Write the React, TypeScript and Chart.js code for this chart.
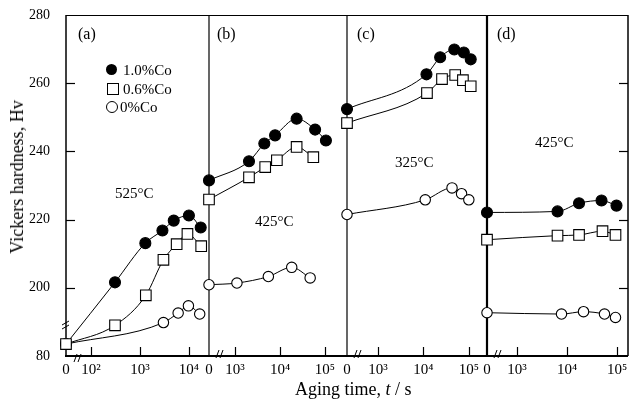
import React, { useEffect, useRef } from "react";
import { Chart, registerables } from "chart.js";
Chart.register(...registerables);

const FONT = "'Liberation Serif', 'Times New Roman', serif";

// ---- y axis (broken: lowest tick is labelled 80) ----
const Y_MIN = 180;
const Y_MAX = 280;
const Y_TICK_VALUES = [180, 200, 220, 240, 260, 280];
const Y_TICK_LABELS = ["80", "200", "220", "240", "260", "280"];

const SERIES_NAMES = ["1.0%Co", "0.6%Co", "0%Co"];

// ---- panel (a) 525°C ----
const A_T_CO10 = [0, 310, 1290, 2880, 4900, 10000, 17400];
const A_HV_CO10 = [183.5, 201.6, 213.1, 216.8, 219.7, 221.2, 217.7];
const A_T_CO06 = [0, 310, 1320, 3020, 5620, 9330, 17800];
const A_HV_CO06 = [183.5, 189.0, 197.8, 208.2, 212.8, 215.8, 212.2];
const A_T_CO00 = [0, 3020, 6030, 9770, 16600];
const A_HV_CO00 = [183.5, 189.8, 192.6, 194.7, 192.3];
const A_X_TICKS = [1e2, 1e3, 1e4];
const A_X_LABELS = ["10²", "10³", "10⁴"];

// ---- panel (b) 425°C ----
const B_T_CO10 = [0, 2040, 4470, 7760, 23400, 60300, 105000];
const B_HV_CO10 = [231.5, 237.1, 242.3, 244.7, 249.6, 246.4, 243.2];
const B_T_CO06 = [0, 2040, 4680, 8510, 23400, 55000];
const B_HV_CO06 = [225.9, 232.4, 235.4, 237.4, 241.3, 238.3];
const B_T_CO00 = [0, 1100, 5500, 18200, 46800];
const B_HV_CO00 = [200.9, 201.4, 203.3, 206.0, 202.9];
const B_X_TICKS = [1e3, 1e4, 1e5];
const B_X_LABELS = ["10³", "10⁴", "10⁵"];

// ---- panel (c) 325°C ----
const C_T_CO10 = [0, 11700, 23400, 47900, 77600, 110000];
const C_HV_CO10 = [252.4, 262.6, 267.6, 269.9, 269.0, 267.0];
const C_T_CO06 = [0, 12000, 25700, 50100, 74100, 110000];
const C_HV_CO06 = [248.3, 257.1, 261.2, 262.4, 260.9, 259.1];
const C_T_CO00 = [0, 11000, 42700, 69200, 100000];
const C_HV_CO00 = [221.5, 225.8, 229.3, 227.6, 225.8];
const C_X_TICKS = [1e3, 1e4, 1e5];
const C_X_LABELS = ["10³", "10⁴", "10⁵"];

// ---- panel (d) 425°C ----
const D_T_CO10 = [0, 6460, 17400, 49000, 97700];
const D_HV_CO10 = [222.1, 222.4, 224.8, 225.6, 224.1];
const D_T_CO06 = [0, 6460, 17400, 51300, 93300];
const D_HV_CO06 = [214.1, 215.3, 215.5, 216.6, 215.5];
const D_T_CO00 = [0, 7760, 21400, 56200, 93300];
const D_HV_CO00 = [192.7, 192.3, 193.0, 192.3, 191.3];
const D_X_TICKS = [1e3, 1e4, 1e5];
const D_X_LABELS = ["10³", "10⁴", "10⁵"];

type Series = { t: number[]; hv: number[] };
type PanelDef = {
  key: string;
  canvasLeft: number;
  canvasWidth: number;
  padLeft: number;
  padRight: number;
  tMin: number;
  tMax: number;
  xTicks: number[];
  xLabels: string[];
  series: Series[];
  leftLineWidth: number;
  showYAxis: boolean;
  rightFrame: boolean;
  breakBelow: boolean;
};

const PANELS: PanelDef[] = [
  {
    key: "a", canvasLeft: 0, canvasWidth: 219, padLeft: 0, padRight: 10,
    tMin: 31, tMax: 25700, xTicks: A_X_TICKS, xLabels: A_X_LABELS,
    series: [
      { t: A_T_CO10, hv: A_HV_CO10 },
      { t: A_T_CO06, hv: A_HV_CO06 },
      { t: A_T_CO00, hv: A_HV_CO00 },
    ],
    leftLineWidth: 1.5, showYAxis: true, rightFrame: false, breakBelow: true,
  },
  {
    key: "b", canvasLeft: 199, canvasWidth: 158, padLeft: 10, padRight: 10,
    tMin: 263, tMax: 309000, xTicks: B_X_TICKS, xLabels: B_X_LABELS,
    series: [
      { t: B_T_CO10, hv: B_HV_CO10 },
      { t: B_T_CO06, hv: B_HV_CO06 },
      { t: B_T_CO00, hv: B_HV_CO00 },
    ],
    leftLineWidth: 1.2, showYAxis: false, rightFrame: false, breakBelow: false,
  },
  {
    key: "c", canvasLeft: 337, canvasWidth: 160, padLeft: 10, padRight: 10,
    tMin: 209, tMax: 251000, xTicks: C_X_TICKS, xLabels: C_X_LABELS,
    series: [
      { t: C_T_CO10, hv: C_HV_CO10 },
      { t: C_T_CO06, hv: C_HV_CO06 },
      { t: C_T_CO00, hv: C_HV_CO00 },
    ],
    leftLineWidth: 1.2, showYAxis: false, rightFrame: false, breakBelow: false,
  },
  {
    key: "d", canvasLeft: 477, canvasWidth: 162, padLeft: 10, padRight: 11,
    tMin: 251, tMax: 166000, xTicks: D_X_TICKS, xLabels: D_X_LABELS,
    series: [
      { t: D_T_CO10, hv: D_HV_CO10 },
      { t: D_T_CO06, hv: D_HV_CO06 },
      { t: D_T_CO00, hv: D_HV_CO00 },
    ],
    leftLineWidth: 2.2, showYAxis: false, rightFrame: true, breakBelow: false,
  },
];

const MARKERS = [
  { pointStyle: "circle", pointRadius: 5.5, bg: "#000", order: 1 },
  { pointStyle: "rect", pointRadius: 7.5, bg: "#fff", order: 0 },
  { pointStyle: "circle", pointRadius: 5.2, bg: "#fff", order: 2 },
];

function seg(ctx: CanvasRenderingContext2D, x1: number, y1: number, x2: number, y2: number, w: number) {
  ctx.beginPath();
  ctx.lineWidth = w;
  ctx.moveTo(x1, y1);
  ctx.lineTo(x2, y2);
  ctx.stroke();
}

function makeFramePlugin(p: PanelDef) {
  return {
    id: "frame_" + p.key,
    beforeDatasetsDraw(chart: any) {
      const { ctx, chartArea: a, scales } = chart;
      const xs = scales.x;
      const ys = scales.y;
      ctx.save();
      ctx.strokeStyle = "#000";
      seg(ctx, a.left, a.top + 0.5, a.right, a.top + 0.5, 1.2);
      seg(ctx, a.left - 1, a.bottom, a.right, a.bottom, 2);
      seg(ctx, a.left, a.top, a.left, a.bottom, p.leftLineWidth);
      if (p.rightFrame) seg(ctx, a.right, a.top, a.right, a.bottom, 1.5);
      p.xTicks.forEach((v) => {
        const px = Math.round(xs.getPixelForValue(v)) + 0.5;
        seg(ctx, px, a.bottom, px, a.bottom - 9, 1.2);
      });
      const inner = Y_TICK_VALUES.slice(1, -1);
      inner.forEach((v) => {
        const py = Math.round(ys.getPixelForValue(v)) + 0.5;
        if (p.showYAxis) seg(ctx, a.left, py, a.left + 9, py, 1.2);
        if (p.rightFrame) seg(ctx, a.right, py, a.right - 9, py, 1.2);
      });
      // x-axis break marks
      const bx = a.left + (p.breakBelow ? 12 : 11);
      const by = a.bottom + (p.breakBelow ? 2 : -2);
      seg(ctx, bx - 4, by + 4, bx - 1, by - 4, 1);
      seg(ctx, bx, by + 4, bx + 3, by - 4, 1);
      // y-axis break marks
      if (p.showYAxis) {
        const yy = a.bottom - 32;
        seg(ctx, a.left - 4, yy + 1, a.left + 3, yy - 3, 1);
        seg(ctx, a.left - 4, yy + 5, a.left + 3, yy + 1, 1);
      }
      ctx.restore();
    },
  };
}

function PanelChart({ p }: { p: PanelDef }) {
  const ref = useRef<HTMLCanvasElement>(null);
  useEffect(() => {
    const datasets = p.series.map((s, i) => ({
      label: SERIES_NAMES[i],
      data: s.t.map((t, j) => ({ x: t === 0 ? p.tMin : t, y: s.hv[j] })),
      borderColor: "#000",
      borderWidth: 1,
      fill: false,
      cubicInterpolationMode: "monotone" as const,
      pointStyle: MARKERS[i].pointStyle as any,
      pointRadius: MARKERS[i].pointRadius,
      pointBackgroundColor: MARKERS[i].bg,
      pointBorderColor: "#000",
      pointBorderWidth: 1.1,
      order: MARKERS[i].order,
      clip: false as any,
    }));
    const chart = new Chart(ref.current!, {
      type: "line",
      data: { datasets },
      options: {
        animation: false,
        responsive: false,
        devicePixelRatio: 1,
        events: [],
        layout: { padding: { top: 15, bottom: 0, left: p.padLeft, right: p.padRight } },
        plugins: { legend: { display: false }, tooltip: { enabled: false } },
        scales: {
          x: {
            type: "logarithmic",
            min: p.tMin,
            max: p.tMax,
            grid: { display: false, drawTicks: false },
            border: { display: false },
            afterBuildTicks: (s: any) => {
              s.ticks = [p.tMin, ...p.xTicks].map((v) => ({ value: v }));
            },
            afterFit: (s: any) => {
              s.height = 45;
            },
            ticks: {
              autoSkip: false,
              maxRotation: 0,
              padding: 5,
              color: "#000",
              font: { family: FONT, size: 15 },
              callback: (_v: any, i: number) => (i === 0 ? "0" : p.xLabels[i - 1]),
            },
          },
          y: {
            type: "linear",
            display: p.showYAxis,
            min: Y_MIN,
            max: Y_MAX,
            grid: { display: false, drawTicks: true, tickLength: 14 },
            border: { display: false },
            afterBuildTicks: (s: any) => {
              s.ticks = Y_TICK_VALUES.map((v) => ({ value: v }));
            },
            afterFit: (s: any) => {
              s.width = p.showYAxis ? 66 : 0;
            },
            ticks: {
              padding: 2,
              color: "#000",
              font: { family: FONT, size: 14 },
              callback: (_v: any, i: number) => Y_TICK_LABELS[i],
            },
          },
        },
      },
      plugins: [makeFramePlugin(p)],
    });
    return () => chart.destroy();
  }, [p]);
  return (
    <canvas
      ref={ref}
      width={p.canvasWidth}
      height={401}
      style={{ position: "absolute", left: p.canvasLeft, top: 0, width: p.canvasWidth, height: 401 }}
    />
  );
}

const txt = (left: number, cy: number, size: number): React.CSSProperties => ({
  position: "absolute",
  left,
  top: cy - size * 0.6,
  fontFamily: FONT,
  fontSize: size,
  lineHeight: `${size * 1.2}px`,
  color: "#000",
  whiteSpace: "nowrap",
});

const PANEL_LABELS = [
  { text: "(a)", x: 78, y: 34 },
  { text: "(b)", x: 217, y: 34 },
  { text: "(c)", x: 357, y: 34 },
  { text: "(d)", x: 497, y: 34 },
];
const TEMP_LABELS = [
  { text: "525°C", x: 115, y: 193 },
  { text: "425°C", x: 255, y: 221 },
  { text: "325°C", x: 395, y: 162 },
  { text: "425°C", x: 535, y: 142 },
];

export default function App() {
  return (
    <div style={{ position: "absolute", left: 0, top: 0, width: 629, height: 401, overflow: "hidden", background: "#fff" }}>
      {PANELS.map((p) => (
        <PanelChart key={p.key} p={p} />
      ))}
      {PANEL_LABELS.map((l) => (
        <div key={l.text} style={txt(l.x, l.y, 16)}>{l.text}</div>
      ))}
      {TEMP_LABELS.map((l, i) => (
        <div key={i} style={txt(l.x, l.y, 15)}>{l.text}</div>
      ))}
      {/* legend */}
      <div style={{ position: "absolute", left: 106, top: 64, width: 11, height: 11, borderRadius: "50%", background: "#000" }} />
      <div style={txt(123, 70, 15)}>{SERIES_NAMES[0]}</div>
      <div style={{ position: "absolute", left: 107, top: 83, width: 10, height: 10, border: "1px solid #000", background: "#fff" }} />
      <div style={txt(123, 89, 15)}>{SERIES_NAMES[1]}</div>
      <div style={{ position: "absolute", left: 106, top: 101, width: 10, height: 10, borderRadius: "50%", border: "1px solid #000", background: "#fff" }} />
      <div style={txt(120, 107, 15)}>{SERIES_NAMES[2]}</div>
      {/* axis titles */}
      <div style={txt(295, 390, 18)}>
        Aging time, <i>t</i> / s
      </div>
      <div
        style={{
          position: "absolute",
          left: 17,
          top: 177,
          transform: "translate(-50%, -50%) rotate(-90deg)",
          fontFamily: FONT,
          fontSize: 18,
          lineHeight: "20px",
          whiteSpace: "nowrap",
          color: "#000",
        }}
      >
        Vickers hardness, Hv
      </div>
    </div>
  );
}
